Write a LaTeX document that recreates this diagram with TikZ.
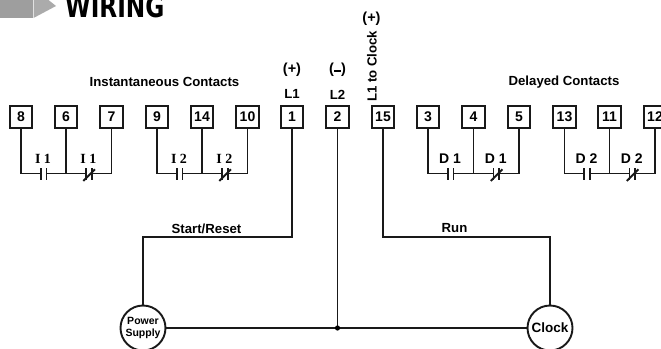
\documentclass[tikz,border=0pt]{standalone}
\usepackage{fontspec}
\setmainfont{Liberation Sans}
\newfontfamily\serifbold{Liberation Serif}[BoldFont={Liberation Serif Bold}]
\newfontfamily\headfont{DejaVu Sans Condensed}[BoldFont={DejaVu Sans Condensed Bold}]
\tikzset{
  px/.style={x=1pt,y=-1pt},
  wire/.style={draw=black!90,line width=1.9pt},
  term/.style={draw=black!90,line width=1.9pt,fill=white,minimum width=22.5pt,minimum height=22.5pt,inner sep=0pt,font=\fontsize{14}{15}\selectfont\bfseries},
  lab/.style={inner sep=0pt,font=\fontsize{13.2}{15}\selectfont\bfseries},
  sym/.style={inner sep=0pt,font=\fontsize{14.5}{16}\selectfont\bfseries},
  clab/.style={inner sep=0pt,font=\fontsize{14}{15}\selectfont\bfseries},
  ilab/.style={inner sep=0pt,font=\fontsize{14}{15}\selectfont\serifbold\bfseries},
  dev/.style={draw=black!90,line width=1.9pt,fill=white,circle,minimum size=45pt,inner sep=0pt,align=center},
}
% \contactpair{name prefix}{left x}{mid x}{label style}{label}
\newcommand{\contactpair}[5]{%
  \coordinate (#1a) at (#2+19.7,173.5);
  \coordinate (#1b) at (#2+25.5,173.5);
  \coordinate (#1c) at (#3+20,173.5);
  \coordinate (#1d) at (#3+25.7,173.5);
  \draw[wire] (#1l) |- (#1a) (#1b) -- (#1c) (#1d) -| (#1r);
  \draw[wire] (#1m) -- (#3,173.5);
  \draw[wire] ([yshift=-6pt]#1a) -- ([yshift=6pt]#1a);
  \draw[wire] ([yshift=-6pt]#1b) -- ([yshift=6pt]#1b);
  \draw[wire] ([yshift=-6pt]#1c) -- ([yshift=6pt]#1c);
  \draw[wire] ([yshift=-6pt]#1d) -- ([yshift=6pt]#1d);
  \draw[wire] ([xshift=-2.7pt,yshift=-7.5pt]#1c) -- ([xshift=9pt,yshift=4.2pt]#1c);
  \node[#4] at (#2+22,159) {#5};
  \node[#4] at (#3+22.3,159) {#5};
}
\begin{document}
\begin{tikzpicture}[px]
\useasboundingbox (0,0) rectangle (661,348);
\clip (0,0) rectangle (661,348);
\fill[black!38] (0,-2) rectangle (33,18);
\fill[black!33] (33.5,-2) -- (33.5,18) -- (56,6) -- (46,-2) -- cycle;
\node[anchor=base west,inner sep=0pt,xscale=0.86,font=\fontsize{30}{31}\selectfont\headfont\bfseries] (head) at (65,17) {WIRING};

\foreach \t/\x in {8/21,6/66,7/111.5,9/157,14/202,10/247.5,1/292,2/337.5,15/383,3/428,4/473.5,5/519,13/564.5,11/609.5,12/655}
  \node[term] (t\t) at (\x,117) {\t};

\coordinate (I1l) at (t8.south); \coordinate (I1m) at (t6.south); \coordinate (I1r) at (t7.south);
\coordinate (I2l) at (t9.south); \coordinate (I2m) at (t14.south); \coordinate (I2r) at (t10.south);
\coordinate (D1l) at (t3.south); \coordinate (D1m) at (t4.south); \coordinate (D1r) at (t5.south);
\coordinate (D2l) at (t13.south); \coordinate (D2m) at (t11.south); \coordinate (D2r) at (t12.south);
\contactpair{I1}{21}{66}{ilab}{I 1}
\contactpair{I2}{157}{202}{ilab}{I 2}
\contactpair{D1}{428}{473.5}{clab}{D 1}
\contactpair{D2}{564.5}{609.5}{clab}{D 2}

\node[lab] (inst) at (164.5,82) {Instantaneous Contacts};
\node[lab] (del) at (564,82) {Delayed Contacts};
\node[sym] (pl) at (292,70) {(+)};
\node[lab] (L1) at (292,93.5) {L1};
\node[sym] (mi) at (337.5,70) {(\raisebox{0.25ex}{\rule{7pt}{1.4pt}})};
\node[lab] (L2) at (337.5,95) {L2};
\node[sym] (pc) at (371.5,19) {(+)};
\node[lab,rotate=90,anchor=west] (lc) at (372,102) {L1 to Clock};
\node[lab] (sr) at (206.5,228.5) {Start/Reset};
\node[lab] (run) at (454.5,228.5) {Run};

\node[dev,font=\fontsize{10.5}{12}\selectfont\bfseries] (ps) at (143,328) {Power\\Supply};
\node[dev,font=\fontsize{13.5}{14}\selectfont\bfseries] (ck) at (550,328) {Clock};

\coordinate (sr1) at (292,237);
\coordinate (sr2) at (143,237);
\coordinate (rn1) at (383,237);
\coordinate (rn2) at (550,237);
\draw[wire] (t1.south) -- (sr1) -- (sr2) -- (ps.north);
\draw[wire] (t15.south) -- (rn1) -- (rn2) -- (ck.north);
\draw[wire] (ps.east) -- (ck.west);
\coordinate (jn) at (337.5,328);
\draw[wire] (t2.south) -- (jn);
\fill[black] (jn) circle (2.6pt);
\end{tikzpicture}
\end{document}
